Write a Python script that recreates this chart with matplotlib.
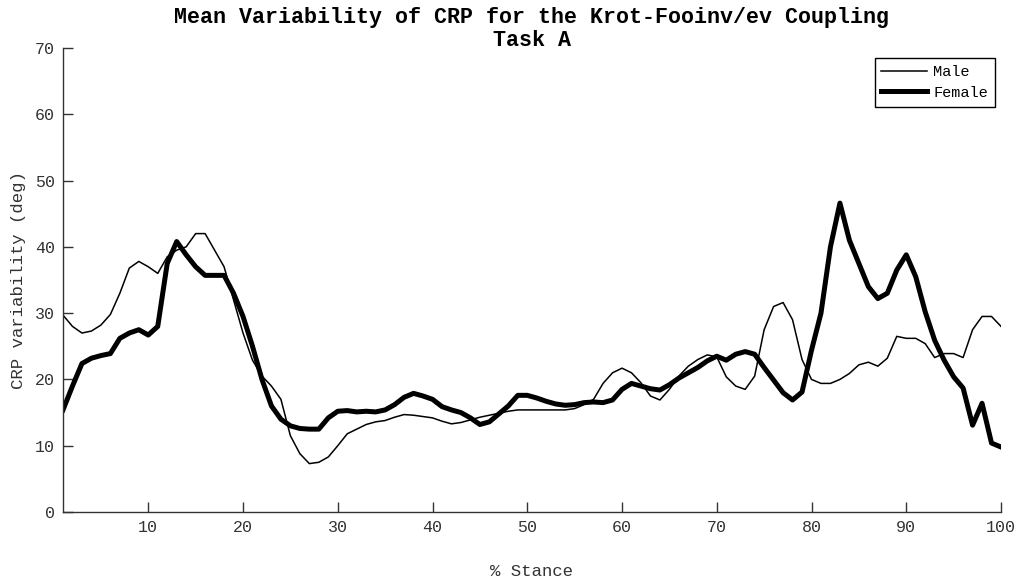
import matplotlib
matplotlib.use("Agg")
import matplotlib.pyplot as plt
import numpy as np

stance = list(range(1, 101))

male = [29.7, 28.0, 27.0, 27.3, 28.2, 29.8, 33.0, 36.8, 37.8, 37.0,
        36.0, 38.5, 39.5, 40.0, 42.0, 42.0, 39.5, 37.0, 32.0, 27.0,
        22.9, 20.5, 19.0, 17.0, 11.5, 8.8, 7.3, 7.5, 8.3, 10.0,
        11.8, 12.5, 13.2, 13.6, 13.8, 14.3, 14.7, 14.6, 14.4, 14.2,
        13.7, 13.3, 13.5, 13.9, 14.3, 14.6, 14.9, 15.2, 15.4, 15.4,
        15.4, 15.4, 15.4, 15.4, 15.6, 16.2, 17.0, 19.4, 21.0, 21.7,
        21.0, 19.5, 17.5, 16.9, 18.5, 20.5, 22.0, 23.0, 23.7, 23.4,
        20.4, 19.0, 18.5, 20.5, 27.5, 31.0, 31.6, 29.0, 23.0, 20.0,
        19.4, 19.4, 20.0, 20.9, 22.2, 22.6, 22.0, 23.2, 26.5, 26.2,
        26.2, 25.4, 23.3, 23.9, 23.9, 23.3, 27.5, 29.5, 29.5, 28.0]

female = [15.4, 19.0, 22.4, 23.2, 23.6, 23.9, 26.2, 27.0, 27.5, 26.7,
          28.0, 37.5, 40.8, 38.8, 37.0, 35.7, 35.7, 35.7, 33.0, 29.5,
          25.0, 20.0, 16.0, 14.0, 13.0, 12.6, 12.5, 12.5, 14.2, 15.2,
          15.3, 15.1, 15.2, 15.1, 15.4, 16.2, 17.3, 17.9, 17.5, 17.0,
          15.9, 15.4, 15.0, 14.2, 13.2, 13.6, 14.8, 16.0, 17.6, 17.6,
          17.2, 16.7, 16.3, 16.1, 16.2, 16.5, 16.6, 16.5, 16.9, 18.5,
          19.4, 19.0, 18.6, 18.4, 19.2, 20.2, 21.0, 21.8, 22.8, 23.5,
          22.9, 23.8, 24.2, 23.8, 21.8, 19.9, 18.0, 16.9, 18.1, 24.4,
          30.0, 40.0, 46.6, 41.0, 37.5, 34.0, 32.2, 33.0, 36.5, 38.8,
          35.5, 30.2, 25.9, 22.9, 20.4, 18.7, 13.1, 16.4, 10.4, 9.8]

xticks = [10, 20, 30, 40, 50, 60, 70, 80, 90, 100]
yticks = [0, 10, 20, 30, 40, 50, 60, 70]

mono = "Liberation Mono"

fig = plt.figure(figsize=(10.23, 5.83), dpi=100)
ax = fig.add_axes([63 / 1023, 1 - 512 / 583, (1001 - 63) / 1023, (512 - 48) / 583])

ax.plot(stance, male, color="black", lw=1.1, label="Male")
ax.plot(stance, female, color="black", lw=3.6, label="Female")

ax.set_xlim(1, 100)
ax.set_ylim(0, 70)
ax.set_xticks(xticks)
ax.set_yticks(yticks)
ax.spines["top"].set_visible(False)
ax.spines["right"].set_visible(False)
for s in ("left", "bottom"):
    ax.spines[s].set_color("#333333")
    ax.spines[s].set_linewidth(1.0)
ax.tick_params(direction="in", length=7, width=1.0, color="#333333",
               labelcolor="#333333", labelsize=12, pad=6)
for lab in ax.get_xticklabels() + ax.get_yticklabels():
    lab.set_family(mono)

ax.set_xlabel("% Stance", family=mono, fontsize=12.5, color="#333333")
ax.xaxis.set_label_coords(0.5, -0.112)
ax.set_ylabel("CRP variability (deg)", family=mono, fontsize=12.5, color="#333333")
ax.yaxis.set_label_coords(-0.039, 0.5)

fig.text((63 + 1001) / 2 / 1023, 1 - 17 / 583,
         "Mean Variability of CRP for the Krot-Fooinv/ev Coupling",
         family=mono, fontweight="bold", fontsize=15.6, ha="center", va="center")
fig.text((63 + 1001) / 2 / 1023, 1 - 40 / 583, "Task A",
         family=mono, fontweight="bold", fontsize=15.6, ha="center", va="center")

leg = ax.legend(loc="upper right", bbox_to_anchor=(995 / 1023, 1 - 58 / 583),
                bbox_transform=fig.transFigure, prop={"family": mono, "size": 11},
                fancybox=False, frameon=True, framealpha=1, edgecolor="black",
                handlelength=3.0, handletextpad=0.4, borderpad=0.45, labelspacing=0.45,
                borderaxespad=0)
leg.get_frame().set_linewidth(1.0)

fig.savefig("out.png", dpi=100)
